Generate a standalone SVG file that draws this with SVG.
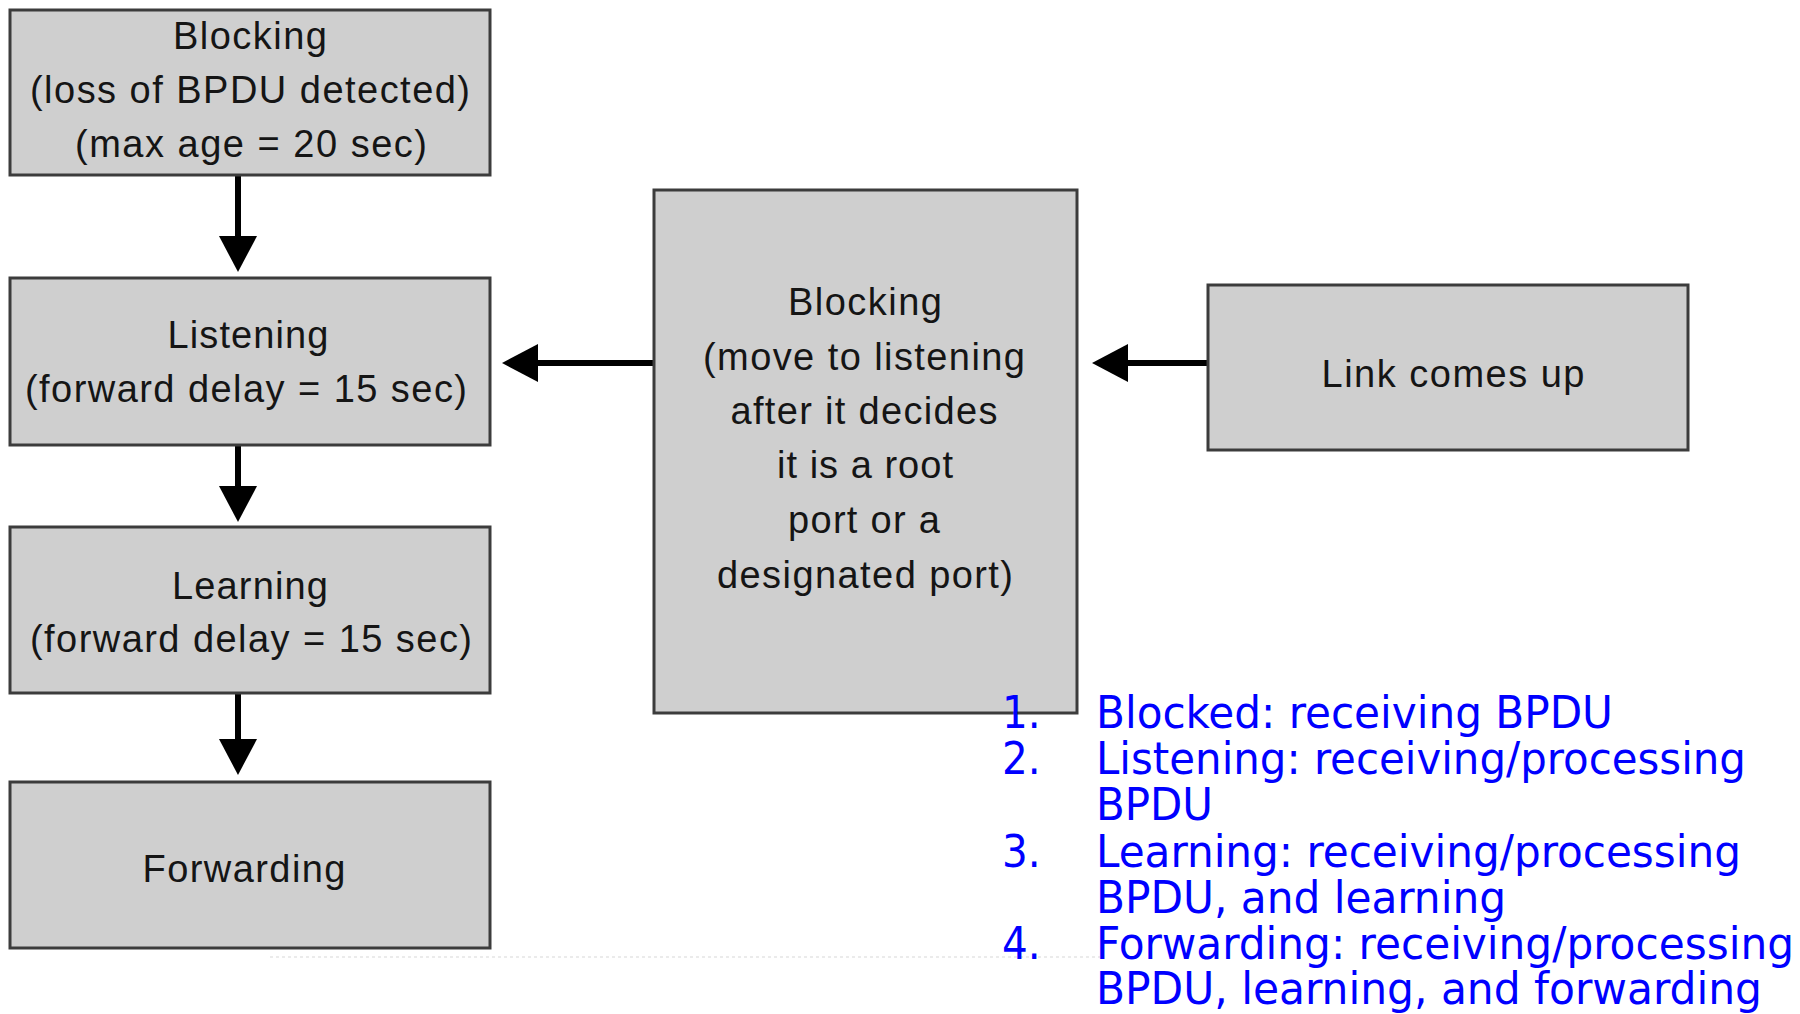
<svg xmlns="http://www.w3.org/2000/svg" width="1800" height="1014" viewBox="0 0 1800 1014">
<style>
.box{fill:#cfcfcf;stroke:#3c3c3c;stroke-width:3}
.t{font-family:"Liberation Sans",Arial,sans-serif;font-size:38px;fill:#151515;text-anchor:middle}
.c{stroke:#000;stroke-width:6;fill:none}
.b{font-family:"DejaVu Sans Condensed","DejaVu Sans",sans-serif;font-size:45px;fill:#0000ff}
</style>
<defs>
<marker id="ah" viewBox="0 0 36 38" refX="3" refY="19" markerWidth="36" markerHeight="38" markerUnits="userSpaceOnUse" orient="auto">
<path d="M0,0 L36,19 L0,38 Z" fill="#000"/>
</marker>
</defs>
<rect width="1800" height="1014" fill="#fff"/>
<line x1="270" y1="957" x2="1100" y2="957" stroke="#ebebeb" stroke-width="2" stroke-dasharray="3 3"/>
<g id="connectors">
<line class="c" x1="238" y1="176" x2="238" y2="239" marker-end="url(#ah)"/>
<line class="c" x1="238" y1="445" x2="238" y2="489" marker-end="url(#ah)"/>
<line class="c" x1="238" y1="693" x2="238" y2="742" marker-end="url(#ah)"/>
<line class="c" x1="654" y1="363" x2="535" y2="363" marker-end="url(#ah)"/>
<line class="c" x1="1208" y1="363" x2="1125" y2="363" marker-end="url(#ah)"/>
</g>
<g id="blocking-loss">
<rect class="box" x="10" y="10" width="480" height="165"/>
<text class="t" x="250" y="49" textLength="154">Blocking</text>
<text class="t" x="250" y="103" textLength="440">(loss of BPDU detected)</text>
<text class="t" x="251" y="157" textLength="352">(max age = 20 sec)</text>
</g>
<g id="listening">
<rect class="box" x="10" y="278" width="480" height="167"/>
<text class="t" x="248" y="348" textLength="161">Listening</text>
<text class="t" x="246" y="402" textLength="442">(forward delay = 15 sec)</text>
</g>
<g id="learning">
<rect class="box" x="10" y="527" width="480" height="166"/>
<text class="t" x="250" y="599" textLength="156">Learning</text>
<text class="t" x="251" y="652" textLength="442">(forward delay = 15 sec)</text>
</g>
<g id="forwarding">
<rect class="box" x="10" y="782" width="480" height="166"/>
<text class="t" x="244" y="882" textLength="203">Forwarding</text>
</g>
<g id="blocking-move">
<rect class="box" x="654" y="190" width="423" height="523"/>
<text class="t" x="865" y="315" textLength="154">Blocking</text>
<text class="t" x="864" y="370" textLength="322">(move to listening</text>
<text class="t" x="864" y="424" textLength="267">after it decides</text>
<text class="t" x="865" y="478" textLength="176">it is a root</text>
<text class="t" x="864" y="533" textLength="152">port or a</text>
<text class="t" x="865" y="588" textLength="296">designated port)</text>
</g>
<g id="link-up">
<rect class="box" x="1208" y="285" width="480" height="165"/>
<text class="t" x="1453" y="387" textLength="263">Link comes up</text>
</g>
<g id="legend">
<text class="b" x="1002" y="728">1.</text>
<text class="b" x="1096" y="728" textLength="517" lengthAdjust="spacingAndGlyphs">Blocked: receiving BPDU</text>
<text class="b" x="1002" y="774">2.</text>
<text class="b" x="1096" y="774" textLength="650" lengthAdjust="spacingAndGlyphs">Listening: receiving/processing</text>
<text class="b" x="1096" y="820" textLength="117" lengthAdjust="spacingAndGlyphs">BPDU</text>
<text class="b" x="1002" y="867">3.</text>
<text class="b" x="1096" y="867" textLength="645" lengthAdjust="spacingAndGlyphs">Learning: receiving/processing</text>
<text class="b" x="1096" y="913" textLength="410" lengthAdjust="spacingAndGlyphs">BPDU, and learning</text>
<text class="b" x="1002" y="959">4.</text>
<text class="b" x="1096" y="959" textLength="698" lengthAdjust="spacingAndGlyphs">Forwarding: receiving/processing</text>
<text class="b" x="1096" y="1004" textLength="666" lengthAdjust="spacingAndGlyphs">BPDU, learning, and forwarding</text>
</g>
</svg>
